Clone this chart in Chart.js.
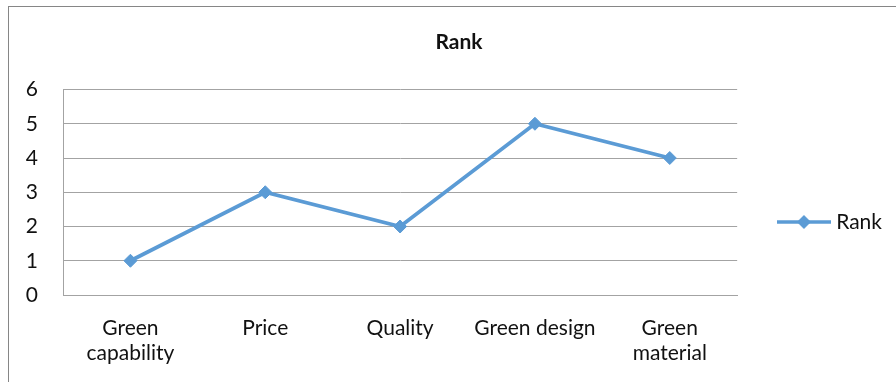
<!DOCTYPE html>
<html>
<head>
<meta charset="utf-8">
<script src="https://cdn.jsdelivr.net/npm/chart.js@4/dist/chart.umd.min.js"></script>
<style>
  html, body { margin: 0; padding: 0; background: #fff; overflow: hidden; }
  #wrap { position: relative; width: 896px; height: 382px; overflow: hidden; }
  #frame { position: absolute; left: 8px; top: 6px; width: 1200px; height: 1200px;
           border-left: 1px solid #868686; border-top: 1px solid #868686; box-sizing: border-box; }
  #c { position: absolute; left: 0; top: 0; }
</style>
</head>
<body>
<div id="wrap">
  <div id="frame"></div>
  <canvas id="c" width="896" height="382"></canvas>
</div>
<script>
// Survey factors and their rank
const categories = [['Green', 'capability'], 'Price', 'Quality', 'Green design', ['Green', 'material']];
const rankValues = [1, 3, 2, 5, 4];
const seriesName = 'Rank';
const yMin = 0;
const yMax = 6;
const yStep = 1;

const lineColor = '#5B9BD5';
const gridColor = '#a3a3a3';
const textColor = '#111111';
const fontFamily = 'Lato, "Open Sans", sans-serif';

// Legend symbol: a short line with a diamond in the middle
function legendSymbol() {
  const w = 54, h = 16;
  const cv = document.createElement('canvas');
  cv.width = w; cv.height = h;
  const g = cv.getContext('2d');
  g.strokeStyle = lineColor;
  g.lineWidth = 3.5;
  g.beginPath();
  g.moveTo(0, h / 2);
  g.lineTo(w, h / 2);
  g.stroke();
  g.fillStyle = lineColor;
  g.beginPath();
  g.moveTo(w / 2, h / 2 - 7);
  g.lineTo(w / 2 + 7, h / 2);
  g.lineTo(w / 2, h / 2 + 7);
  g.lineTo(w / 2 - 7, h / 2);
  g.closePath();
  g.fill();
  return cv;
}
const symbol = legendSymbol();

new Chart(document.getElementById('c'), {
  type: 'line',
  data: {
    labels: categories,
    datasets: [{
      label: seriesName,
      data: rankValues,
      borderColor: lineColor,
      backgroundColor: lineColor,
      borderWidth: 3.8,
      tension: 0,
      pointStyle: 'rectRot',
      pointRadius: 6.5,
      pointBorderWidth: 1,
      pointBackgroundColor: lineColor,
      pointBorderColor: lineColor
    }]
  },
  options: {
    responsive: false,
    animation: false,
    layout: { padding: { left: 26, right: 4, top: 0, bottom: 0 } },
    plugins: {
      title: {
        display: true,
        text: seriesName,
        color: textColor,
        font: { family: fontFamily, size: 21, weight: 'bold', lineHeight: 1.2 },
        padding: { top: 30, bottom: 34.3 }
      },
      legend: {
        display: true,
        position: 'right',
        align: 'center',
        title: { display: true, text: ' ', padding: 0, font: { size: 10, lineHeight: '62px' } },
        labels: {
          color: textColor,
          font: { family: fontFamily, size: 21 },
          padding: 45,
          usePointStyle: true,
          pointStyleWidth: 43.5,
          generateLabels: (chart) => chart.data.datasets.map((ds, i) => ({
            text: ds.label,
            fillStyle: ds.borderColor,
            strokeStyle: ds.borderColor,
            lineWidth: 0,
            pointStyle: symbol,
            datasetIndex: i,
            fontColor: textColor
          }))
        }
      },
      tooltip: { enabled: false }
    },
    scales: {
      x: {
        offset: true,
        grid: { display: false },
        border: { display: true, color: gridColor, width: 1 },
        ticks: {
          color: textColor,
          font: { family: fontFamily, size: 21, lineHeight: 1.17 },
          padding: 13,
          maxRotation: 0,
          autoSkip: false
        },
        afterFit: (scale) => { scale.height = 87; }
      },
      y: {
        min: yMin,
        max: yMax,
        grid: { color: gridColor, lineWidth: 1, drawTicks: false },
        border: { display: true, color: gridColor, width: 1 },
        ticks: {
          stepSize: yStep,
          color: textColor,
          font: { family: fontFamily, size: 21 },
          padding: 25
        },
        afterFit: (scale) => { scale.width = 37; }
      }
    }
  }
});
</script>
</body>
</html>
